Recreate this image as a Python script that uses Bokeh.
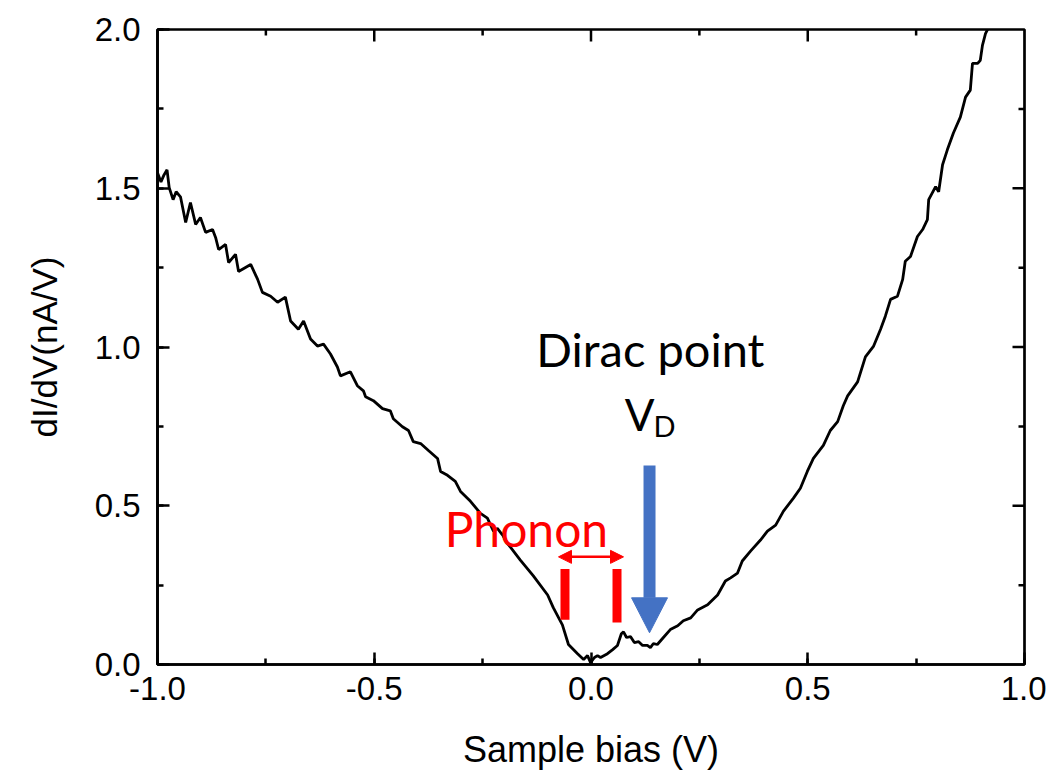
import math
from bokeh.plotting import figure
from bokeh.models import (LinearAxis, SingleIntervalTicker, PrintfTickFormatter,
                          Range1d, Arrow, NormalHead, Label)
from bokeh.embed import file_html
from bokeh.resources import INLINE

# ---- data: dI/dV spectrum ----
bias = [-1.000, -0.992, -0.985, -0.978, -0.973, -0.964, -0.957, -0.947, -0.935, -0.924,
        -0.912, -0.901, -0.889, -0.873, -0.866, -0.859, -0.843, -0.836, -0.820, -0.813,
        -0.785, -0.769, -0.758, -0.739, -0.723, -0.705, -0.693, -0.675, -0.663, -0.647,
        -0.631, -0.617, -0.601, -0.585, -0.578, -0.555, -0.539, -0.525, -0.520, -0.502,
        -0.481, -0.463, -0.456, -0.435, -0.421, -0.410, -0.393, -0.375, -0.354, -0.347,
        -0.331, -0.313, -0.301, -0.278, -0.255, -0.239, -0.225, -0.216, -0.202, -0.193,
        -0.163, -0.133, -0.100, -0.087, -0.066, -0.052, -0.031, -0.017, -0.008, -0.001,
        0.008, 0.015, 0.022, 0.038, 0.050, 0.061, 0.070, 0.075, 0.082, 0.091,
        0.100, 0.110, 0.119, 0.130, 0.137, 0.144, 0.153, 0.167, 0.183, 0.200,
        0.213, 0.230, 0.246, 0.269, 0.292, 0.310, 0.322, 0.338, 0.349, 0.368,
        0.391, 0.407, 0.426, 0.444, 0.467, 0.483, 0.499, 0.513, 0.536, 0.552,
        0.569, 0.582, 0.592, 0.615, 0.633, 0.652, 0.668, 0.679, 0.691, 0.707,
        0.719, 0.725, 0.737, 0.753, 0.765, 0.776, 0.779, 0.795, 0.802, 0.811,
        0.822, 0.836, 0.852, 0.864, 0.875, 0.880, 0.892, 0.898, 0.903, 0.910, 0.917]
didv = [1.549, 1.520, 1.542, 1.558, 1.502, 1.464, 1.489, 1.473, 1.392, 1.455,
        1.386, 1.408, 1.361, 1.370, 1.345, 1.307, 1.323, 1.266, 1.292, 1.238,
        1.260, 1.213, 1.172, 1.160, 1.141, 1.157, 1.082, 1.056, 1.082, 1.025,
        1.003, 1.009, 0.978, 0.937, 0.909, 0.922, 0.878, 0.862, 0.843, 0.831,
        0.806, 0.799, 0.774, 0.749, 0.737, 0.702, 0.696, 0.674, 0.649, 0.608,
        0.596, 0.577, 0.545, 0.514, 0.476, 0.461, 0.420, 0.429, 0.404, 0.382,
        0.329, 0.279, 0.219, 0.179, 0.125, 0.063, 0.034, 0.016, 0.028, 0.006,
        0.022, 0.028, 0.022, 0.034, 0.047, 0.060, 0.097, 0.103, 0.085, 0.088,
        0.069, 0.072, 0.060, 0.060, 0.053, 0.066, 0.063, 0.085, 0.110, 0.122,
        0.138, 0.147, 0.172, 0.188, 0.219, 0.263, 0.273, 0.288, 0.326, 0.357,
        0.392, 0.420, 0.439, 0.483, 0.524, 0.555, 0.608, 0.649, 0.690, 0.737,
        0.765, 0.815, 0.846, 0.890, 0.969, 1.003, 1.056, 1.097, 1.150, 1.160,
        1.213, 1.270, 1.285, 1.348, 1.370, 1.401, 1.464, 1.505, 1.489, 1.574,
        1.621, 1.674, 1.724, 1.787, 1.809, 1.893, 1.893, 1.903, 1.950, 1.987, 2.006]

x_range = (-1.0, 1.0)
y_range = (0.0, 2.0)
x_label = "Sample bias (V)"
y_label = "dI/dV(nA/V)"

# tick positions for the mirrored (top / right) tick marks
x_major = [-0.5, 0.0, 0.5]
x_minor = [-0.75, -0.25, 0.25, 0.75]
y_major = [0.5, 1.0, 1.5]
y_minor = [0.25, 0.75, 1.25, 1.75]

# annotation anchors (data units)
dirac_text = "Dirac point"
dirac_pos = (0.137, 0.994)
vd_pos = (0.112, 0.790)
vd_sub_pos = (0.144, 0.752)
phonon_text = "Phonon"
phonon_pos = (-0.149, 0.429)
phonon_span = (-0.075, 0.075, 0.339)
phonon_bars_x = [-0.060, 0.060]
phonon_bars_y0 = [0.141, 0.132]
phonon_bars_y1 = [0.301, 0.301]
dirac_arrow_x = 0.135
dirac_arrow_top = 0.627
dirac_arrow_base = 0.210
dirac_arrow_tip = 0.100
dirac_head_half = 0.0415

TICK_FONT = "Arial"
ANN_FONT = "Lato"
RED = "#FF0000"
BLUE = "#4472C4"

p = figure(width=1046, height=772, output_backend="svg", toolbar_location=None,
           x_range=Range1d(*x_range), y_range=Range1d(*y_range),
           min_border_left=157, min_border_right=22, min_border_top=29, min_border_bottom=105,
           x_axis_location=None, y_axis_location=None)
p.grid.visible = False
p.outline_line_color = "black"
p.outline_line_width = 2.7
p.background_fill_color = "white"
p.border_fill_color = "white"


def make_axis(label_text, size_ticks, size_label):
    ax = LinearAxis(ticker=SingleIntervalTicker(interval=0.5, num_minor_ticks=2),
                    formatter=PrintfTickFormatter(format="%.1f"))
    ax.axis_line_width = 2.7
    ax.axis_line_color = "black"
    ax.major_tick_in = 12
    ax.major_tick_out = 0
    ax.minor_tick_in = 6
    ax.minor_tick_out = 0
    ax.major_tick_line_width = 2.5
    ax.minor_tick_line_width = 2.5
    ax.major_tick_line_color = "black"
    ax.minor_tick_line_color = "black"
    ax.major_label_text_font = TICK_FONT
    ax.major_label_text_font_size = size_ticks
    ax.major_label_text_color = "black"
    ax.axis_label = label_text
    ax.axis_label_text_font = TICK_FONT
    ax.axis_label_text_font_size = size_label
    ax.axis_label_text_font_style = "normal"
    ax.axis_label_text_color = "black"
    return ax


bottom = make_axis(x_label, "33px", "36px")
bottom.major_label_standoff = 12
bottom.axis_label_standoff = 26
left = make_axis(y_label, "33px", "35px")
left.major_label_standoff = 17
left.axis_label_standoff = 28
p.add_layout(bottom, "below")
p.add_layout(left, "left")

# mirrored inward ticks on top and right edges
p.ray(x=x_major, y=[y_range[1]] * len(x_major), length=12, length_units="screen",
      angle=-math.pi / 2, line_color="black", line_width=2.5)
p.ray(x=x_minor, y=[y_range[1]] * len(x_minor), length=6, length_units="screen",
      angle=-math.pi / 2, line_color="black", line_width=2.5)
p.ray(x=[x_range[1]] * len(y_major), y=y_major, length=12, length_units="screen",
      angle=math.pi, line_color="black", line_width=2.5)
p.ray(x=[x_range[1]] * len(y_minor), y=y_minor, length=6, length_units="screen",
      angle=math.pi, line_color="black", line_width=2.5)

# spectrum
p.line(bias, didv, line_color="black", line_width=2.8)

# Phonon annotation
p.add_layout(Label(x=phonon_pos[0], y=phonon_pos[1], text=phonon_text, text_align="center",
                   text_baseline="alphabetic", text_font=ANN_FONT, text_font_size="48px",
                   text_color=RED))
p.add_layout(Arrow(x_start=phonon_span[0], y_start=phonon_span[2],
                   x_end=phonon_span[1], y_end=phonon_span[2],
                   start=NormalHead(size=13, fill_color=RED, line_color=RED, line_width=1),
                   end=NormalHead(size=13, fill_color=RED, line_color=RED, line_width=1),
                   line_color=RED, line_width=2.5))
p.segment(x0=phonon_bars_x, y0=phonon_bars_y0, x1=phonon_bars_x, y1=phonon_bars_y1,
          line_color=RED, line_width=9, line_cap="butt")

# Dirac point annotation
p.add_layout(Label(x=dirac_pos[0], y=dirac_pos[1], text=dirac_text, text_align="center",
                   text_baseline="alphabetic", text_font=ANN_FONT, text_font_size="47px",
                   text_color="black"))
p.add_layout(Label(x=vd_pos[0], y=vd_pos[1], text="V", text_align="center",
                   text_baseline="alphabetic", text_font=ANN_FONT, text_font_size="44px",
                   text_color="black"))
p.add_layout(Label(x=vd_sub_pos[0], y=vd_sub_pos[1], text="D", text_align="left",
                   text_baseline="alphabetic", text_font=ANN_FONT, text_font_size="29px",
                   text_color="black"))
p.segment(x0=[dirac_arrow_x], y0=[dirac_arrow_top], x1=[dirac_arrow_x], y1=[dirac_arrow_base],
          line_color=BLUE, line_width=12, line_cap="butt")
p.patch(x=[dirac_arrow_x - dirac_head_half, dirac_arrow_x + dirac_head_half, dirac_arrow_x],
        y=[dirac_arrow_base, dirac_arrow_base, dirac_arrow_tip],
        fill_color=BLUE, line_color=BLUE, line_width=1)

open("out.html", "w").write(file_html(p, INLINE))
